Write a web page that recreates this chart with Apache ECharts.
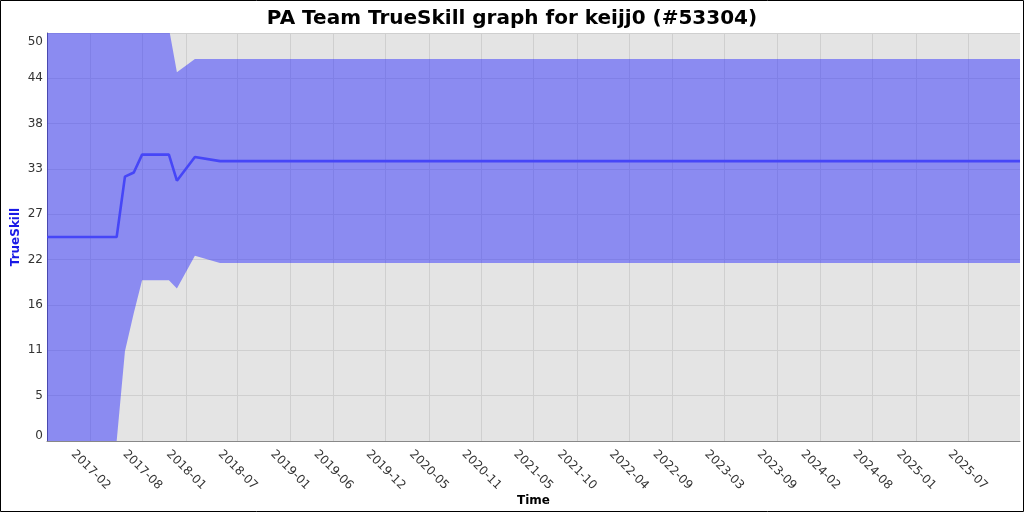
<!DOCTYPE html>
<html>
<head>
<meta charset="utf-8">
<script src="https://cdn.jsdelivr.net/npm/echarts@6/dist/echarts.min.js"></script>
<style>
html,body{margin:0;padding:0;background:#fff;}
#chart{width:1024px;height:512px;}
</style>
</head>
<body>
<div id="chart"></div>
<script>
// ---- Data ----
const dates = ['2016-09-01','2017-05-03','2017-06-01','2017-07-02','2017-07-31','2017-11-02','2017-11-30','2018-02-01','2018-04-30','2025-12-31'];
const mu    = [25, 25, 32.4, 32.9, 35.1, 35.1, 31.9, 34.8, 34.3, 34.3];
const lower = [0, 0, 11.0, 15.7, 19.7, 19.7, 18.7, 22.7, 21.8, 21.8];
const upper = [50, 50, 53.8, 50.1, 50.6, 50.6, 45.2, 46.8, 46.8, 46.8];
const xTickLabels = ['2017-02','2017-08','2018-01','2018-07','2019-01','2019-06','2019-12','2020-05','2020-11','2021-05','2021-10','2022-04','2022-09','2023-03','2023-09','2024-02','2024-08','2025-01','2025-07'];
const yMin = 0, yMax = 50, ySteps = 9;
const xMin = '2016-09-01', xMax = '2025-12-31';
const titleText = 'PA Team TrueSkill graph for keijj0 (#53304)';

// ---- helpers ----
function ts(s){ const p = s.split('-').map(Number); return Date.UTC(p[0], p[1]-1, p[2] || 1); }
function ym(v){ const d = new Date(v); const m = d.getUTCMonth()+1; return d.getUTCFullYear() + '-' + (m<10?'0':'') + m; }
const xTicks = xTickLabels.map(ts);
const bandData = dates.map((d,i)=>[ts(d), lower[i], upper[i]]);
const muData   = dates.map((d,i)=>[ts(d), mu[i]]);

function renderBand(params, api){
  if (params.dataIndex !== 0) return null;
  const top = bandData.map(p => api.coord([p[0], p[2]]));
  const bot = bandData.map(p => api.coord([p[0], p[1]])).reverse();
  const cs = params.coordSys;
  return {
    type: 'polygon',
    shape: {points: top.concat(bot)},
    style: {fill: 'rgba(42,42,255,0.48)', stroke: null},
    clipPath: {type: 'rect', shape: {x: cs.x, y: cs.y, width: cs.width, height: cs.height}},
    silent: true
  };
}

const FONT = 'DejaVu Sans';
const labelStyle = {fontFamily: FONT, fontSize: 12, color: '#333'};
const chart = echarts.init(document.getElementById('chart'), null, {renderer:'canvas'});
chart.setOption({
  animation: false,
  backgroundColor: '#ffffff',
  title: {
    text: titleText, left: 'center', top: 4,
    textStyle: {fontFamily: FONT, fontSize: 20, fontWeight: 'bold', color: '#000'}
  },
  graphic: [{
    type: 'rect', z: 100, silent: true,
    shape: {x: 0.5, y: 0.5, width: 1023, height: 511},
    style: {fill: 'none', stroke: '#000', lineWidth: 1}
  }],
  grid: {
    left: 47, right: 4, top: 33, bottom: 71,
    outerBoundsMode: 'none', containLabel: false,
    show: true, backgroundColor: '#e4e4e4', borderWidth: 0
  },
  xAxis: {
    type: 'value', min: ts(xMin), max: ts(xMax),
    name: 'Time', nameLocation: 'middle', nameGap: 54, nameMoveOverlap: false,
    nameTextStyle: {fontFamily: FONT, fontSize: 12, fontWeight: 'bold', color: '#000'},
    axisLine: {show: true, onZero: false, lineStyle: {color: '#888', width: 1}},
    axisTick: {show: false, customValues: xTicks},
    axisLabel: Object.assign({
      customValues: xTicks, rotate: -45, align: 'center', verticalAlign: 'middle', margin: 29,
      formatter: v => ym(v)
    }, labelStyle),
    splitLine: {show: true, lineStyle: {color: '#cfcfcf', width: 1}}
  },
  yAxis: {
    type: 'value', min: yMin, max: yMax, interval: (yMax - yMin) / ySteps,
    name: 'TrueSkill', nameLocation: 'middle', nameGap: 25, nameMoveOverlap: false,
    nameTextStyle: {fontFamily: FONT, fontSize: 12, fontWeight: 'bold', color: '#1a1ae6'},
    axisLine: {show: true, onZero: false, lineStyle: {color: '#666', width: 1}},
    axisTick: {show: false},
    axisLabel: Object.assign({
      margin: 4, verticalAlign: 'middle',
      formatter: v => {
        const s = String(Math.floor(v + 1e-6));
        if (Math.abs(v - yMin) < 1e-6) return '{lo|' + s + '}';
        if (Math.abs(v - yMax) < 1e-6) return '{hi|' + s + '}';
        return s;
      },
      rich: {
        lo: Object.assign({padding: [0, 0, 10, 0]}, labelStyle),
        hi: Object.assign({padding: [17, 0, 0, 0]}, labelStyle)
      }
    }, labelStyle),
    splitLine: {show: true, lineStyle: {color: '#cfcfcf', width: 1}}
  },
  series: [
    {
      name: 'band', type: 'custom', renderItem: renderBand, data: bandData,
      encode: {x: 0, y: [1, 2]}, silent: true, z: 1
    },
    {
      name: 'TrueSkill', type: 'line', data: muData,
      showSymbol: false, z: 3,
      lineStyle: {color: '#4646f7', width: 2.6}
    }
  ]
});
</script>
</body>
</html>
